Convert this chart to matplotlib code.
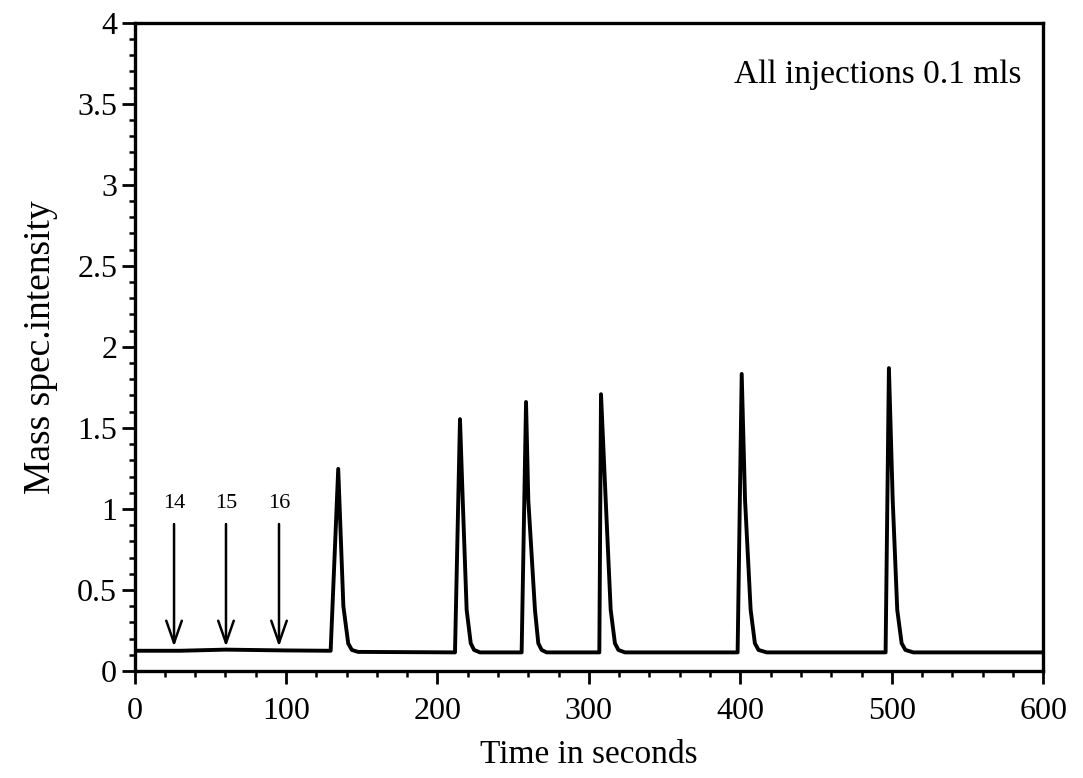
import matplotlib
matplotlib.use("Agg")
import matplotlib.pyplot as plt
from matplotlib.ticker import MultipleLocator, FuncFormatter

# detector trace: time (s) and intensity, read point by point
trace_t = [0, 30, 60, 100, 129.5,
           134.5, 137.9, 141.1, 143.5, 147.6,
           211.6, 214.9, 216.7, 219.3, 222.0, 224.2, 228.1,
           255.6, 258.5, 260.0, 264.4, 266.6, 268.8, 272.1,
           306.9, 308.0, 311.1, 314.4, 317.2, 319.5, 323.8,
           398.2, 400.9, 403.1, 406.8, 409.6, 412.0, 417.4,
           495.9, 498.1, 500.6, 503.6, 506.5, 509.0, 514.2,
           600]
trace_y = [0.125, 0.125, 0.132, 0.127, 0.125,
           1.247, 0.40, 0.17, 0.13, 0.118,
           0.115, 1.554, 1.056, 0.377, 0.171, 0.13, 0.115,
           0.115, 1.660, 1.056, 0.377, 0.171, 0.13, 0.115,
           0.115, 1.708, 1.056, 0.377, 0.171, 0.13, 0.115,
           0.115, 1.833, 1.056, 0.377, 0.171, 0.13, 0.115,
           0.115, 1.869, 1.056, 0.377, 0.171, 0.13, 0.115,
           0.115]

# injection markers
arrow_times = [26.1, 60.4, 95.4]
arrow_labels = ["14", "15", "16"]
arrow_top = 0.907
arrow_tip = 0.15

plt.rcParams["font.family"] = ["Liberation Serif", "DejaVu Serif"]

fig = plt.figure(figsize=(10.83, 7.78), dpi=100)
ax = fig.add_axes([0.1242, 0.1375, 0.8391, 0.8333])

ax.plot(trace_t, trace_y, color="black", lw=2.8, solid_joinstyle="round")

for t, lab in zip(arrow_times, arrow_labels):
    ax.annotate("", xy=(t, arrow_tip), xytext=(t, arrow_top),
                arrowprops=dict(arrowstyle="->,head_length=0.8,head_width=0.28",
                                lw=1.8, color="black", mutation_scale=20,
                                shrinkA=0, shrinkB=0))
    ax.text(t, 1.036, lab, ha="center", va="center", fontsize=16)

ax.text(396, 3.68, "All injections 0.1 mls", fontsize=24, va="center")

ax.set_xlim(0, 600)
ax.set_ylim(0, 4)
ax.xaxis.set_major_locator(MultipleLocator(100))
ax.xaxis.set_minor_locator(MultipleLocator(20))
ax.yaxis.set_major_locator(MultipleLocator(0.5))
ax.yaxis.set_minor_locator(MultipleLocator(0.1))
ax.yaxis.set_major_formatter(FuncFormatter(lambda v, p: f"{v:g}"))

ax.tick_params(which="major", direction="out", length=9.5, width=2,
               labelsize=23)
ax.tick_params(axis="x", which="major", pad=9)
ax.tick_params(axis="y", which="major", pad=3)
ax.tick_params(which="minor", direction="out", length=4.5, width=1.8)
for s in ax.spines.values():
    s.set_linewidth(2.4)

ax.set_xlabel("Time in seconds", fontsize=24, labelpad=10)
ax.set_ylabel("Mass spec.intensity", fontsize=27, labelpad=14)

fig.savefig("out.png", dpi=100)
